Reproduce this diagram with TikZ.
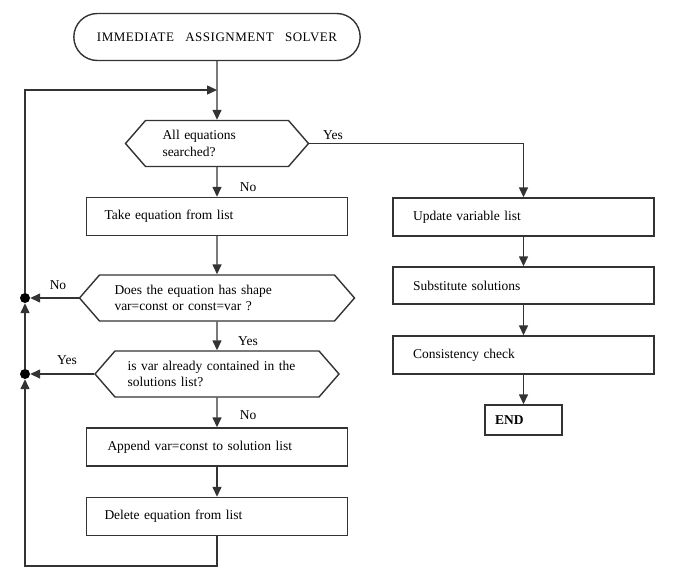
\documentclass[tikz,border=0pt]{standalone}
\usepackage{fontspec}
\setmainfont{Liberation Serif}
\newfontfamily\titlefont[LetterSpace=4,WordSpace=3]{Liberation Serif}
\usetikzlibrary{shapes.symbols,shapes.misc,arrows.meta}

\begin{document}
\begin{tikzpicture}[x=1pt,y=-1pt,>={Triangle[length=10pt,width=9pt]},
    font=\fontsize{13.5}{16.5}\selectfont,
    conn/.style={->,draw=black!80,line width=1.4pt},
    box/.style={draw=black!80,line width=1.4pt,rectangle,minimum width=261pt,minimum height=38pt,inner sep=0pt,align=left},
    hexa/.style={draw=black!80,line width=1.4pt,signal,signal to=west and east,signal pointer angle=98,minimum height=46pt,inner sep=0pt,align=left},
    dot/.style={circle,fill=black,inner sep=0pt,minimum size=10pt},
    lbl/.style={inner sep=0pt}]
    \useasboundingbox (0,0) rectangle (679,583);
    % left column
    \node[draw=black!80,line width=1.4pt,rounded rectangle,minimum width=293pt,minimum height=47pt] (start) at (217,37) {\titlefont\fontsize{13}{15}\selectfont IMMEDIATE ASSIGNMENT SOLVER};
    \node[hexa,minimum width=183pt,text width=109pt] (q1) at (217,143.5) {All equations\\searched?};
    \node[box,text width=225pt] (take) at (217,216.5) {Take equation from list};
    \node[hexa,minimum width=275pt,text width=205pt] (q2) at (217,298) {Does the equation has shape\\var=const or const=var ?};
    \node[hexa,minimum width=244pt,text width=179pt] (q3) at (217,374) {is var already contained in the\\solutions list?};
    \node[box,text width=219pt] (append) at (217,447) {Append var=const to solution list};
    \node[box,text width=225pt] (delete) at (217,516.5) {Delete equation from list};
    % right column
    \node[box,text width=221pt] (update) at (523.5,217) {Update variable list};
    \node[box,text width=221pt,minimum height=37pt] (subst) at (523.5,285.5) {Substitute solutions};
    \node[box,text width=221pt] (check) at (523.5,355) {Consistency check};
    \node[box,minimum width=77pt,minimum height=30pt,text width=57pt] (endbox) at (523.5,420) {\textbf{END}};
    % loop back
    \node[dot] (d1) at (25,298) {};
    \node[dot] (d2) at (25,374) {};
    \coordinate (top) at (217,90);
    \coordinate (bl) at (25,566);
    % labels
    \node[lbl] (yes1) at (333,135) {Yes};
    \node[lbl] (no1) at (248,187) {No};
    \node[lbl] (no2) at (58,285) {No};
    \node[lbl] (yes2) at (248,341) {Yes};
    \node[lbl] (yes3) at (67,360) {Yes};
    \node[lbl] (no3) at (248,415) {No};
    % connectors
    \draw[conn] (start) -- (q1);
    \draw[conn] (q1) -- (take);
    \draw[conn] (take) -- (q2);
    \draw[conn] (q2) -- (q3);
    \draw[conn] (q3) -- (append);
    \draw[conn] (append) -- (delete);
    \draw[conn] (q1.east) -| (update.north);
    \draw[conn] (update) -- (subst);
    \draw[conn] (subst) -- (check);
    \draw[conn] (check) -- (endbox);
    \draw[conn] (q2.west) -- (d1);
    \draw[conn] (q3.west) -- (d2);
    \draw[conn] (delete.south) |- (bl) -- (d2);
    \draw[conn] (d2) -- (d1);
    \draw[conn] (d1) |- (top);
\end{tikzpicture}
\end{document}
